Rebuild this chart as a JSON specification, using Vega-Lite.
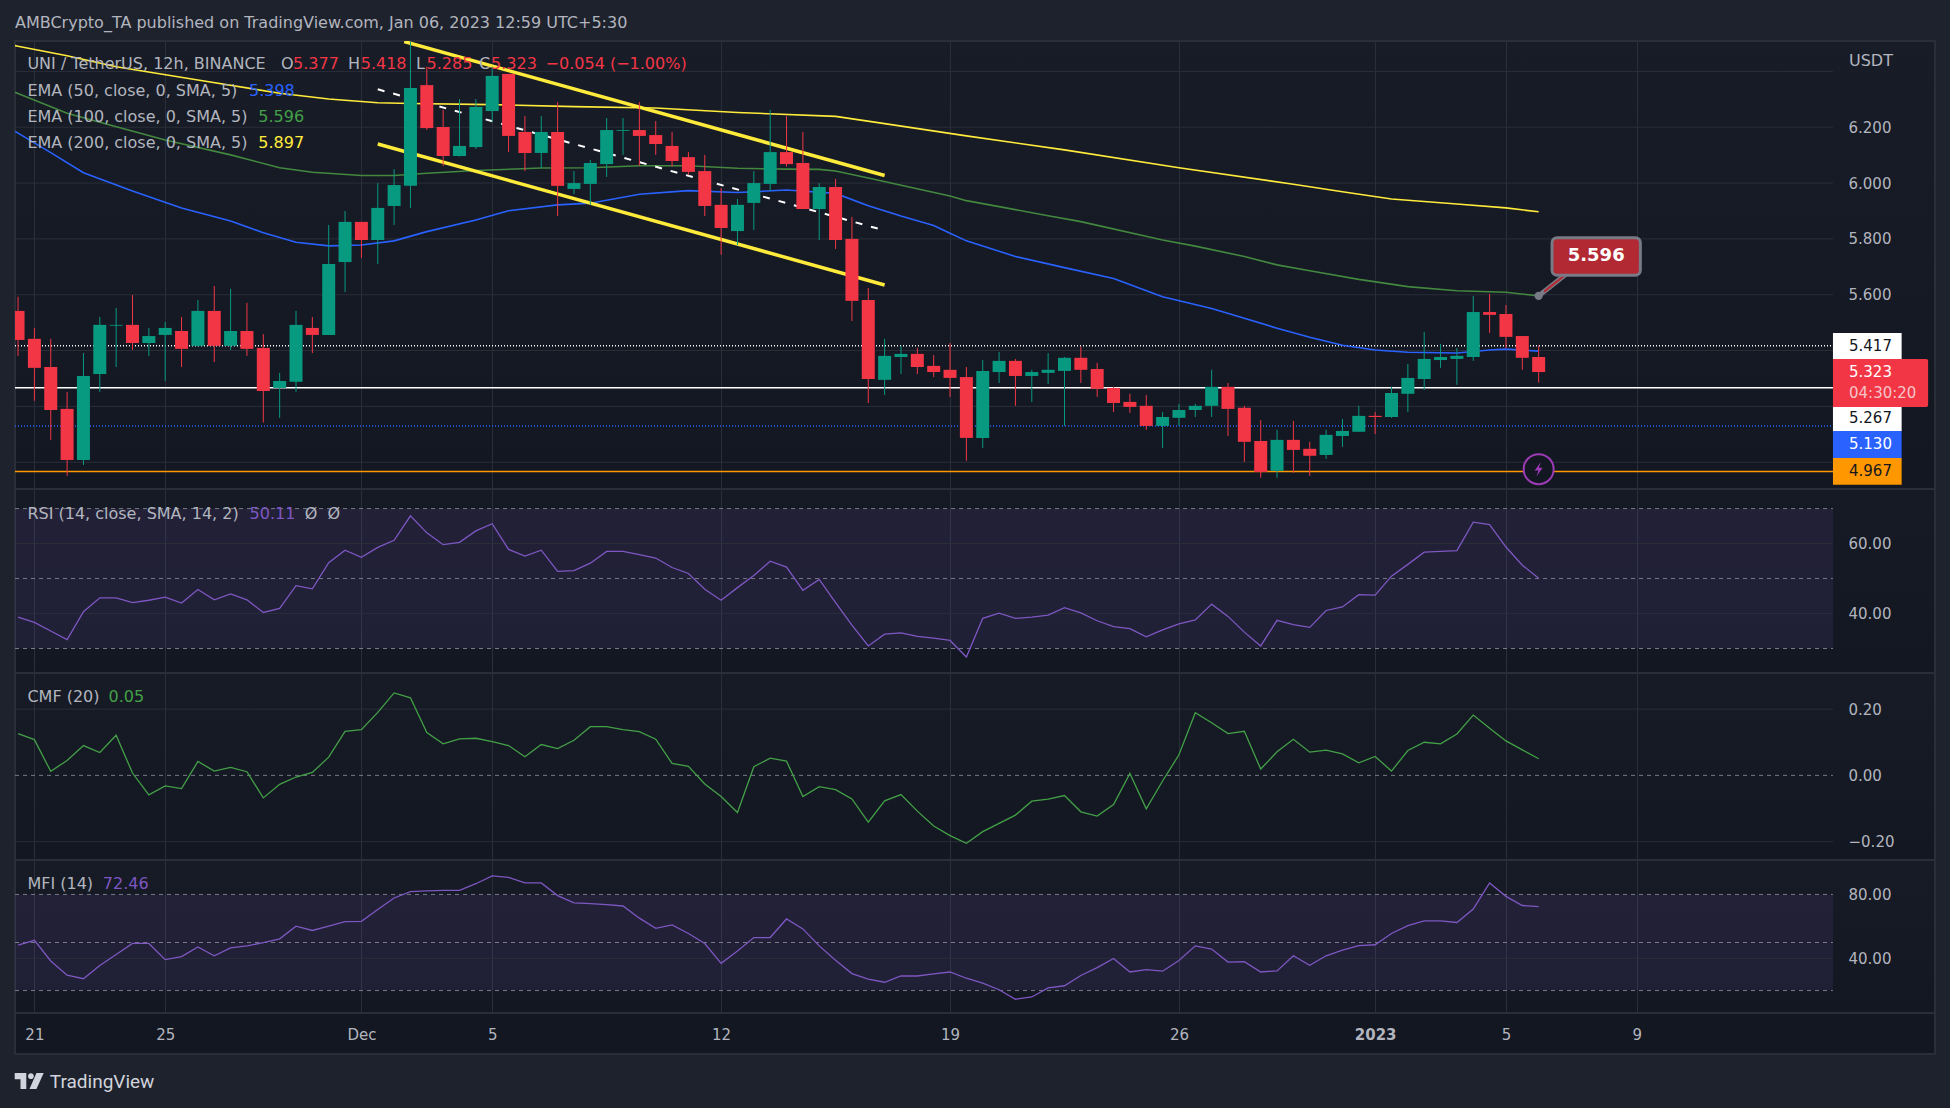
{"$schema":"https://vega.github.io/schema/vega-lite/v6.json","background":"#1e222d","padding":{"left":13,"right":17,"top":0,"bottom":0},"spacing":0,"bounds":"flush",
"config":{"font":"DejaVu Sans","axis":{"title":null,"domain":false,"ticks":false,"tickSize":0,"labelColor":"#b2b5be","labelFont":"DejaVu Sans","labelFontSize":15,"gridColor":"#2a2e39","gridWidth":1},"text":{"font":"DejaVu Sans"}},
"datasets":{
"one":[{"n":1}],
"bars":[
{"t":"2022-11-20T12:00Z","o":5.542,"h":5.593,"l":5.381,"c":5.438,"rsi":38.96,"cmf":0.126,"mfi":48.4},
{"t":"2022-11-21T00:00Z","o":5.442,"h":5.481,"l":5.220,"c":5.338,"rsi":37.49,"cmf":0.108,"mfi":51.4},
{"t":"2022-11-21T12:00Z","o":5.341,"h":5.442,"l":5.080,"c":5.187,"rsi":35.01,"cmf":0.012,"mfi":38.5},
{"t":"2022-11-22T00:00Z","o":5.191,"h":5.252,"l":4.951,"c":5.008,"rsi":32.54,"cmf":0.045,"mfi":29.6},
{"t":"2022-11-22T12:00Z","o":5.008,"h":5.391,"l":4.990,"c":5.309,"rsi":40.54,"cmf":0.090,"mfi":27.4},
{"t":"2022-11-23T00:00Z","o":5.316,"h":5.520,"l":5.252,"c":5.492,"rsi":44.48,"cmf":0.069,"mfi":35.6},
{"t":"2022-11-23T12:00Z","o":5.489,"h":5.553,"l":5.341,"c":5.492,"rsi":44.48,"cmf":0.121,"mfi":42.5},
{"t":"2022-11-24T00:00Z","o":5.492,"h":5.599,"l":5.402,"c":5.427,"rsi":43.13,"cmf":0.007,"mfi":49.4},
{"t":"2022-11-24T12:00Z","o":5.427,"h":5.481,"l":5.381,"c":5.452,"rsi":43.80,"cmf":-0.059,"mfi":49.4},
{"t":"2022-11-25T00:00Z","o":5.456,"h":5.502,"l":5.291,"c":5.481,"rsi":44.70,"cmf":-0.032,"mfi":39.3},
{"t":"2022-11-25T12:00Z","o":5.470,"h":5.520,"l":5.341,"c":5.406,"rsi":43.01,"cmf":-0.040,"mfi":41.2},
{"t":"2022-11-26T00:00Z","o":5.417,"h":5.581,"l":5.414,"c":5.542,"rsi":46.85,"cmf":0.042,"mfi":47.2},
{"t":"2022-11-26T12:00Z","o":5.542,"h":5.631,"l":5.359,"c":5.417,"rsi":43.92,"cmf":0.013,"mfi":41.7},
{"t":"2022-11-27T00:00Z","o":5.417,"h":5.621,"l":5.402,"c":5.470,"rsi":45.61,"cmf":0.024,"mfi":46.7},
{"t":"2022-11-27T12:00Z","o":5.470,"h":5.571,"l":5.381,"c":5.406,"rsi":43.92,"cmf":0.011,"mfi":47.9},
{"t":"2022-11-28T00:00Z","o":5.409,"h":5.459,"l":5.142,"c":5.255,"rsi":40.31,"cmf":-0.068,"mfi":49.9},
{"t":"2022-11-28T12:00Z","o":5.266,"h":5.320,"l":5.159,"c":5.291,"rsi":41.44,"cmf":-0.027,"mfi":52.3},
{"t":"2022-11-29T00:00Z","o":5.288,"h":5.542,"l":5.252,"c":5.492,"rsi":47.97,"cmf":-0.005,"mfi":60.2},
{"t":"2022-11-29T12:00Z","o":5.481,"h":5.520,"l":5.391,"c":5.456,"rsi":47.07,"cmf":0.009,"mfi":57.5},
{"t":"2022-11-30T00:00Z","o":5.456,"h":5.850,"l":5.456,"c":5.710,"rsi":54.51,"cmf":0.055,"mfi":60.2},
{"t":"2022-11-30T12:00Z","o":5.717,"h":5.900,"l":5.610,"c":5.861,"rsi":58.11,"cmf":0.133,"mfi":63.0},
{"t":"2022-12-01T00:00Z","o":5.861,"h":5.861,"l":5.732,"c":5.796,"rsi":56.08,"cmf":0.138,"mfi":63.2},
{"t":"2022-12-01T12:00Z","o":5.796,"h":6.000,"l":5.710,"c":5.911,"rsi":58.90,"cmf":0.190,"mfi":70.6},
{"t":"2022-12-02T00:00Z","o":5.918,"h":6.050,"l":5.850,"c":5.993,"rsi":60.93,"cmf":0.249,"mfi":77.8},
{"t":"2022-12-02T12:00Z","o":5.990,"h":6.507,"l":5.911,"c":6.341,"rsi":67.92,"cmf":0.234,"mfi":81.7},
{"t":"2022-12-03T00:00Z","o":6.351,"h":6.417,"l":6.190,"c":6.197,"rsi":63.07,"cmf":0.129,"mfi":82.2},
{"t":"2022-12-03T12:00Z","o":6.201,"h":6.262,"l":6.061,"c":6.097,"rsi":59.69,"cmf":0.095,"mfi":82.5},
{"t":"2022-12-04T00:00Z","o":6.097,"h":6.301,"l":6.095,"c":6.133,"rsi":60.37,"cmf":0.110,"mfi":82.5},
{"t":"2022-12-04T12:00Z","o":6.129,"h":6.301,"l":6.122,"c":6.273,"rsi":63.63,"cmf":0.112,"mfi":86.7},
{"t":"2022-12-05T00:00Z","o":6.258,"h":6.417,"l":6.219,"c":6.384,"rsi":65.66,"cmf":0.102,"mfi":91.6},
{"t":"2022-12-05T12:00Z","o":6.391,"h":6.391,"l":6.111,"c":6.169,"rsi":58.34,"cmf":0.090,"mfi":90.6},
{"t":"2022-12-06T00:00Z","o":6.183,"h":6.240,"l":6.043,"c":6.108,"rsi":56.42,"cmf":0.056,"mfi":87.2},
{"t":"2022-12-06T12:00Z","o":6.108,"h":6.240,"l":6.054,"c":6.183,"rsi":58.11,"cmf":0.093,"mfi":87.2},
{"t":"2022-12-07T00:00Z","o":6.183,"h":6.290,"l":5.882,"c":5.990,"rsi":52.03,"cmf":0.081,"mfi":79.3},
{"t":"2022-12-07T12:00Z","o":5.979,"h":6.043,"l":5.961,"c":6.000,"rsi":52.25,"cmf":0.106,"mfi":74.8},
{"t":"2022-12-08T00:00Z","o":5.997,"h":6.083,"l":5.922,"c":6.072,"rsi":54.39,"cmf":0.147,"mfi":74.3},
{"t":"2022-12-08T12:00Z","o":6.068,"h":6.233,"l":6.022,"c":6.190,"rsi":57.77,"cmf":0.147,"mfi":73.6},
{"t":"2022-12-09T00:00Z","o":6.187,"h":6.233,"l":6.101,"c":6.190,"rsi":57.77,"cmf":0.138,"mfi":72.8},
{"t":"2022-12-09T12:00Z","o":6.190,"h":6.290,"l":6.062,"c":6.169,"rsi":56.87,"cmf":0.132,"mfi":65.2},
{"t":"2022-12-10T00:00Z","o":6.172,"h":6.222,"l":6.101,"c":6.140,"rsi":55.86,"cmf":0.109,"mfi":58.8},
{"t":"2022-12-10T12:00Z","o":6.133,"h":6.183,"l":6.059,"c":6.079,"rsi":53.15,"cmf":0.036,"mfi":61.0},
{"t":"2022-12-11T00:00Z","o":6.093,"h":6.111,"l":6.029,"c":6.040,"rsi":51.46,"cmf":0.027,"mfi":55.6},
{"t":"2022-12-11T12:00Z","o":6.043,"h":6.101,"l":5.882,"c":5.918,"rsi":46.96,"cmf":-0.026,"mfi":49.4},
{"t":"2022-12-12T00:00Z","o":5.922,"h":5.982,"l":5.743,"c":5.839,"rsi":43.80,"cmf":-0.064,"mfi":37.0},
{"t":"2022-12-12T12:00Z","o":5.828,"h":5.943,"l":5.778,"c":5.922,"rsi":47.41,"cmf":-0.112,"mfi":44.7},
{"t":"2022-12-13T00:00Z","o":5.929,"h":6.043,"l":5.832,"c":6.000,"rsi":50.90,"cmf":0.026,"mfi":53.1},
{"t":"2022-12-13T12:00Z","o":5.997,"h":6.262,"l":5.972,"c":6.111,"rsi":54.96,"cmf":0.052,"mfi":53.1},
{"t":"2022-12-14T00:00Z","o":6.111,"h":6.240,"l":6.059,"c":6.068,"rsi":53.27,"cmf":0.043,"mfi":64.7},
{"t":"2022-12-14T12:00Z","o":6.072,"h":6.183,"l":5.907,"c":5.907,"rsi":46.62,"cmf":-0.064,"mfi":58.5},
{"t":"2022-12-15T00:00Z","o":5.907,"h":6.000,"l":5.796,"c":5.986,"rsi":49.77,"cmf":-0.034,"mfi":47.9},
{"t":"2022-12-15T12:00Z","o":5.986,"h":6.015,"l":5.764,"c":5.796,"rsi":43.13,"cmf":-0.043,"mfi":39.0},
{"t":"2022-12-16T00:00Z","o":5.800,"h":5.879,"l":5.506,"c":5.578,"rsi":36.70,"cmf":-0.071,"mfi":30.6},
{"t":"2022-12-16T12:00Z","o":5.581,"h":5.624,"l":5.212,"c":5.298,"rsi":30.73,"cmf":-0.141,"mfi":27.2},
{"t":"2022-12-17T00:00Z","o":5.295,"h":5.442,"l":5.241,"c":5.381,"rsi":34.11,"cmf":-0.077,"mfi":25.2},
{"t":"2022-12-17T12:00Z","o":5.377,"h":5.417,"l":5.316,"c":5.388,"rsi":34.45,"cmf":-0.058,"mfi":29.1},
{"t":"2022-12-18T00:00Z","o":5.388,"h":5.409,"l":5.316,"c":5.341,"rsi":33.44,"cmf":-0.108,"mfi":29.1},
{"t":"2022-12-18T12:00Z","o":5.345,"h":5.384,"l":5.305,"c":5.323,"rsi":32.99,"cmf":-0.153,"mfi":30.4},
{"t":"2022-12-19T00:00Z","o":5.331,"h":5.427,"l":5.234,"c":5.302,"rsi":32.31,"cmf":-0.182,"mfi":31.6},
{"t":"2022-12-19T12:00Z","o":5.305,"h":5.341,"l":5.005,"c":5.087,"rsi":27.58,"cmf":-0.205,"mfi":27.7},
{"t":"2022-12-20T00:00Z","o":5.087,"h":5.366,"l":5.051,"c":5.327,"rsi":38.62,"cmf":-0.170,"mfi":24.7},
{"t":"2022-12-20T12:00Z","o":5.323,"h":5.395,"l":5.284,"c":5.363,"rsi":40.08,"cmf":-0.145,"mfi":20.5},
{"t":"2022-12-21T00:00Z","o":5.363,"h":5.370,"l":5.202,"c":5.309,"rsi":38.62,"cmf":-0.120,"mfi":14.6},
{"t":"2022-12-21T12:00Z","o":5.309,"h":5.331,"l":5.216,"c":5.323,"rsi":38.96,"cmf":-0.078,"mfi":16.0},
{"t":"2022-12-22T00:00Z","o":5.320,"h":5.391,"l":5.280,"c":5.331,"rsi":39.52,"cmf":-0.072,"mfi":21.7},
{"t":"2022-12-22T12:00Z","o":5.327,"h":5.377,"l":5.130,"c":5.374,"rsi":41.66,"cmf":-0.061,"mfi":23.0},
{"t":"2022-12-23T00:00Z","o":5.374,"h":5.414,"l":5.284,"c":5.331,"rsi":40.20,"cmf":-0.110,"mfi":29.4},
{"t":"2022-12-23T12:00Z","o":5.334,"h":5.356,"l":5.234,"c":5.263,"rsi":37.94,"cmf":-0.123,"mfi":34.3},
{"t":"2022-12-24T00:00Z","o":5.266,"h":5.270,"l":5.180,"c":5.212,"rsi":36.25,"cmf":-0.088,"mfi":40.0},
{"t":"2022-12-24T12:00Z","o":5.216,"h":5.245,"l":5.177,"c":5.198,"rsi":35.69,"cmf":0.006,"mfi":31.6},
{"t":"2022-12-25T00:00Z","o":5.202,"h":5.241,"l":5.116,"c":5.130,"rsi":33.32,"cmf":-0.101,"mfi":33.1},
{"t":"2022-12-25T12:00Z","o":5.130,"h":5.180,"l":5.051,"c":5.162,"rsi":35.35,"cmf":-0.017,"mfi":32.1},
{"t":"2022-12-26T00:00Z","o":5.159,"h":5.209,"l":5.130,"c":5.187,"rsi":37.04,"cmf":0.062,"mfi":38.8},
{"t":"2022-12-26T12:00Z","o":5.187,"h":5.209,"l":5.162,"c":5.202,"rsi":38.17,"cmf":0.189,"mfi":47.9},
{"t":"2022-12-27T00:00Z","o":5.202,"h":5.331,"l":5.162,"c":5.270,"rsi":42.68,"cmf":0.159,"mfi":45.9},
{"t":"2022-12-27T12:00Z","o":5.270,"h":5.284,"l":5.094,"c":5.191,"rsi":39.18,"cmf":0.126,"mfi":37.8},
{"t":"2022-12-28T00:00Z","o":5.195,"h":5.202,"l":5.001,"c":5.073,"rsi":34.68,"cmf":0.133,"mfi":38.0},
{"t":"2022-12-28T12:00Z","o":5.076,"h":5.151,"l":4.944,"c":4.965,"rsi":30.73,"cmf":0.019,"mfi":31.6},
{"t":"2022-12-29T00:00Z","o":4.969,"h":5.116,"l":4.944,"c":5.080,"rsi":38.06,"cmf":0.071,"mfi":32.3},
{"t":"2022-12-29T12:00Z","o":5.080,"h":5.148,"l":4.962,"c":5.044,"rsi":36.82,"cmf":0.109,"mfi":41.7},
{"t":"2022-12-30T00:00Z","o":5.048,"h":5.073,"l":4.951,"c":5.023,"rsi":36.03,"cmf":0.070,"mfi":35.8},
{"t":"2022-12-30T12:00Z","o":5.026,"h":5.116,"l":5.012,"c":5.098,"rsi":40.87,"cmf":0.076,"mfi":41.7},
{"t":"2022-12-31T00:00Z","o":5.094,"h":5.155,"l":5.055,"c":5.112,"rsi":41.89,"cmf":0.065,"mfi":45.2},
{"t":"2022-12-31T12:00Z","o":5.109,"h":5.202,"l":5.109,"c":5.166,"rsi":45.38,"cmf":0.038,"mfi":48.1},
{"t":"2023-01-01T00:00Z","o":5.166,"h":5.180,"l":5.101,"c":5.162,"rsi":45.27,"cmf":0.057,"mfi":48.6},
{"t":"2023-01-01T12:00Z","o":5.162,"h":5.270,"l":5.159,"c":5.248,"rsi":50.68,"cmf":0.013,"mfi":55.6},
{"t":"2023-01-02T00:00Z","o":5.245,"h":5.352,"l":5.180,"c":5.302,"rsi":54.06,"cmf":0.075,"mfi":60.5},
{"t":"2023-01-02T12:00Z","o":5.298,"h":5.467,"l":5.259,"c":5.370,"rsi":57.55,"cmf":0.100,"mfi":63.5},
{"t":"2023-01-03T00:00Z","o":5.366,"h":5.424,"l":5.338,"c":5.377,"rsi":57.77,"cmf":0.095,"mfi":63.5},
{"t":"2023-01-03T12:00Z","o":5.370,"h":5.409,"l":5.277,"c":5.381,"rsi":58.00,"cmf":0.125,"mfi":62.5},
{"t":"2023-01-04T00:00Z","o":5.377,"h":5.596,"l":5.363,"c":5.538,"rsi":66.11,"cmf":0.182,"mfi":70.9},
{"t":"2023-01-04T12:00Z","o":5.538,"h":5.603,"l":5.463,"c":5.528,"rsi":65.44,"cmf":0.142,"mfi":87.2},
{"t":"2023-01-05T00:00Z","o":5.531,"h":5.563,"l":5.409,"c":5.449,"rsi":59.01,"cmf":0.104,"mfi":78.8},
{"t":"2023-01-05T12:00Z","o":5.452,"h":5.452,"l":5.331,"c":5.374,"rsi":53.83,"cmf":0.077,"mfi":73.1},
{"t":"2023-01-06T00:00Z","o":5.377,"h":5.418,"l":5.285,"c":5.323,"rsi":50.11,"cmf":0.050,"mfi":72.46}
],
"ema50":[
{"t":"2022-11-20T00:00Z","v":6.213},{"t":"2022-11-20T12:00Z","v":6.179},{"t":"2022-11-21T12:00Z","v":6.109},{"t":"2022-11-22T12:00Z","v":6.037},{"t":"2022-11-24T00:00Z","v":5.972},{"t":"2022-11-25T12:00Z","v":5.911},{"t":"2022-11-27T00:00Z","v":5.864},{"t":"2022-11-28T00:00Z","v":5.822},{"t":"2022-11-29T00:00Z","v":5.788},{"t":"2022-11-30T00:00Z","v":5.775},{"t":"2022-12-01T00:00Z","v":5.778},{"t":"2022-12-02T00:00Z","v":5.793},{"t":"2022-12-03T00:00Z","v":5.826},{"t":"2022-12-04T12:00Z","v":5.868},{"t":"2022-12-05T12:00Z","v":5.901},{"t":"2022-12-07T00:00Z","v":5.922},{"t":"2022-12-08T00:00Z","v":5.928},{"t":"2022-12-09T12:00Z","v":5.960},{"t":"2022-12-11T00:00Z","v":5.973},{"t":"2022-12-12T12:00Z","v":5.966},{"t":"2022-12-14T00:00Z","v":5.975},{"t":"2022-12-15T12:00Z","v":5.963},{"t":"2022-12-16T12:00Z","v":5.919},{"t":"2022-12-17T12:00Z","v":5.882},{"t":"2022-12-18T12:00Z","v":5.848},{"t":"2022-12-19T00:00Z","v":5.820},{"t":"2022-12-19T12:00Z","v":5.793},{"t":"2022-12-21T00:00Z","v":5.737},{"t":"2022-12-22T12:00Z","v":5.697},{"t":"2022-12-24T00:00Z","v":5.658},{"t":"2022-12-25T12:00Z","v":5.593},{"t":"2022-12-27T00:00Z","v":5.551},{"t":"2022-12-28T00:00Z","v":5.516},{"t":"2022-12-29T00:00Z","v":5.480},{"t":"2022-12-30T00:00Z","v":5.448},{"t":"2022-12-31T00:00Z","v":5.419},{"t":"2023-01-01T00:00Z","v":5.402},{"t":"2023-01-02T00:00Z","v":5.394},{"t":"2023-01-03T12:00Z","v":5.391},{"t":"2023-01-04T12:00Z","v":5.402},{"t":"2023-01-05T00:00Z","v":5.405},{"t":"2023-01-06T00:00Z","v":5.398}],
"ema100":[
{"t":"2022-11-20T00:00Z","v":6.344},{"t":"2022-11-20T12:00Z","v":6.321},{"t":"2022-11-22T00:00Z","v":6.250},{"t":"2022-11-23T00:00Z","v":6.218},{"t":"2022-11-25T00:00Z","v":6.154},{"t":"2022-11-27T00:00Z","v":6.101},{"t":"2022-11-28T12:00Z","v":6.055},{"t":"2022-11-29T12:00Z","v":6.039},{"t":"2022-12-01T00:00Z","v":6.027},{"t":"2022-12-02T00:00Z","v":6.027},{"t":"2022-12-03T00:00Z","v":6.035},{"t":"2022-12-04T12:00Z","v":6.045},{"t":"2022-12-06T12:00Z","v":6.054},{"t":"2022-12-08T00:00Z","v":6.055},{"t":"2022-12-09T12:00Z","v":6.062},{"t":"2022-12-11T00:00Z","v":6.062},{"t":"2022-12-12T12:00Z","v":6.053},{"t":"2022-12-14T00:00Z","v":6.050},{"t":"2022-12-15T00:00Z","v":6.049},{"t":"2022-12-15T12:00Z","v":6.043},{"t":"2022-12-16T12:00Z","v":6.018},{"t":"2022-12-19T00:00Z","v":5.954},{"t":"2022-12-19T12:00Z","v":5.937},{"t":"2022-12-22T00:00Z","v":5.883},{"t":"2022-12-23T00:00Z","v":5.862},{"t":"2022-12-25T12:00Z","v":5.796},{"t":"2022-12-26T12:00Z","v":5.774},{"t":"2022-12-28T00:00Z","v":5.737},{"t":"2022-12-29T00:00Z","v":5.707},{"t":"2022-12-30T00:00Z","v":5.686},{"t":"2022-12-31T12:00Z","v":5.655},{"t":"2023-01-02T00:00Z","v":5.629},{"t":"2023-01-03T12:00Z","v":5.614},{"t":"2023-01-05T00:00Z","v":5.609},{"t":"2023-01-06T00:00Z","v":5.596}],
"ema200":[
{"t":"2022-11-20T00:00Z","v":6.503},{"t":"2022-11-20T12:00Z","v":6.490},{"t":"2022-11-22T00:00Z","v":6.456},{"t":"2022-11-23T12:00Z","v":6.417},{"t":"2022-11-26T00:00Z","v":6.369},{"t":"2022-11-28T12:00Z","v":6.322},{"t":"2022-11-30T00:00Z","v":6.301},{"t":"2022-12-01T12:00Z","v":6.288},{"t":"2022-12-02T12:00Z","v":6.285},{"t":"2022-12-05T00:00Z","v":6.281},{"t":"2022-12-07T12:00Z","v":6.274},{"t":"2022-12-10T00:00Z","v":6.269},{"t":"2022-12-12T12:00Z","v":6.253},{"t":"2022-12-15T12:00Z","v":6.239},{"t":"2022-12-17T00:00Z","v":6.213},{"t":"2022-12-19T12:00Z","v":6.169},{"t":"2022-12-22T12:00Z","v":6.119},{"t":"2022-12-26T00:00Z","v":6.055},{"t":"2022-12-29T12:00Z","v":5.996},{"t":"2022-12-31T00:00Z","v":5.969},{"t":"2023-01-01T12:00Z","v":5.943},{"t":"2023-01-03T12:00Z","v":5.925},{"t":"2023-01-05T00:00Z","v":5.911},{"t":"2023-01-06T00:00Z","v":5.897}],
"channels":[
{"id":"upper","t":"2022-12-02T07:26Z","p":6.507},{"id":"upper","t":"2022-12-17T00:00Z","p":6.027},
{"id":"lower","t":"2022-12-01T12:00Z","p":6.140},{"id":"lower","t":"2022-12-17T00:00Z","p":5.635}],
"mid":[{"t":"2022-12-01T12:00Z","p":6.336},{"t":"2022-12-16T19:00Z","p":5.837}],
"pricegrid":[{"p":6.4},{"p":6.2},{"p":6.0},{"p":5.8},{"p":5.6},{"p":5.4},{"p":5.2},{"p":5.0}],
"mainText":[
{"t":"2022-11-20T18:52Z","p":6.425,"s":"UNI / TetherUS, 12h, BINANCE","k":"label"},
{"t":"2022-11-28T12:59Z","p":6.425,"s":"O","k":"label"},{"t":"2022-11-28T21:48Z","p":6.425,"s":"5.377","k":"down"},
{"t":"2022-11-30T14:10Z","p":6.425,"s":"H","k":"label"},{"t":"2022-11-30T23:29Z","p":6.425,"s":"5.418","k":"down"},
{"t":"2022-12-02T16:05Z","p":6.425,"s":"L","k":"label"},{"t":"2022-12-02T23:51Z","p":6.425,"s":"5.285","k":"down"},
{"t":"2022-12-04T14:18Z","p":6.425,"s":"C","k":"label"},{"t":"2022-12-04T23:07Z","p":6.425,"s":"5.323","k":"down"},
{"t":"2022-12-06T15:11Z","p":6.425,"s":"−0.054 (−1.00%)","k":"down"},
{"t":"2022-11-20T18:52Z","p":6.329,"s":"EMA (50, close, 0, SMA, 5)","k":"label"},{"t":"2022-11-27T13:30Z","p":6.329,"s":"5.398","k":"e50"},
{"t":"2022-11-20T18:52Z","p":6.236,"s":"EMA (100, close, 0, SMA, 5)","k":"label"},{"t":"2022-11-27T20:20Z","p":6.236,"s":"5.596","k":"e100"},
{"t":"2022-11-20T18:52Z","p":6.143,"s":"EMA (200, close, 0, SMA, 5)","k":"label"},{"t":"2022-11-27T20:20Z","p":6.143,"s":"5.897","k":"e200"},
{"t":"2023-01-15T11:46Z","p":6.438,"s":"USDT","k":"label"}],
"boxes":[
{"top":5.463,"bot":5.370,"k":"white"},{"top":5.198,"bot":5.112,"k":"white"},{"top":5.112,"bot":5.015,"k":"blue"},{"top":5.015,"bot":4.919,"k":"orange"}],
"boxText":[
{"s":"5.417","p":5.417,"k":"dark"},{"s":"5.323","p":5.323,"k":"light"},{"s":"04:30:20","p":5.248,"k":"faint"},{"s":"5.267","p":5.159,"k":"dark"},{"s":"5.130","p":5.066,"k":"light"},{"s":"4.967","p":4.967,"k":"dark"}]
},
"vconcat":[
{"width":1920,"height":41,"view":{"stroke":null},"data":{"name":"one"},"layer":[
{"mark":{"type":"text","align":"left","baseline":"middle","fontSize":16,"color":"#b2b5be","text":"AMBCrypto_TA published on TradingView.com, Jan 06, 2023 12:59 UTC+5:30"},"encoding":{"x":{"datum":{"year":2022,"month":11,"date":20,"hours":9,"minutes":46,"utc":true},"type":"temporal","scale":{"type":"utc","nice":false,"padding":0,"domain":["2022-11-20T09:46Z","2023-01-18T02:53Z"]},"axis":null},"y":{"datum":0.44,"type":"quantitative","scale":{"domain":[0,1]},"axis":null}}}
]},
{"width":1920,"height":448,"view":{"stroke":"#2a2e39","strokeWidth":2,"fill":{"gradient":"linear","x1":0,"y1":0,"x2":0,"y2":1,"stops":[{"offset":0,"color":"#181c27"},{"offset":1,"color":"#131722"}]}},"data":{"name":"one"},"layer":[
{"data":{"name":"pricegrid"},"mark":{"type":"rule","color":"#2a2e39","strokeWidth":1},"encoding":{"x":{"datum":{"year":2022,"month":11,"date":20,"hours":9,"minutes":46,"utc":true},"type":"temporal","scale":{"type":"utc","nice":false,"padding":0,"domain":["2022-11-20T09:46Z","2023-01-18T02:53Z"]},"axis":{"grid":true,"labels":false,"values":["2022-11-21T00:00Z","2022-11-25T00:00Z","2022-12-01T00:00Z","2022-12-05T00:00Z","2022-12-12T00:00Z","2022-12-19T00:00Z","2022-12-26T00:00Z","2023-01-01T00:00Z","2023-01-05T00:00Z","2023-01-09T00:00Z"]}},"x2":{"datum":{"year":2023,"month":1,"date":15,"utc":true}},"y":{"field":"p","type":"quantitative","scale":{"nice":false,"zero":false,"domain":[4.904,6.509]},"axis":{"orient":"right","offset":-102,"labelPadding":15,"grid":false,"values":[6.2,6.0,5.8,5.6],"format":".3f"}}}},
{"mark":{"type":"rule","color":"#ffffff","strokeWidth":1.5,"strokeDash":[1,2]},"encoding":{"x":{"datum":{"year":2022,"month":11,"date":20,"hours":9,"minutes":46,"utc":true},"type":"temporal"},"x2":{"datum":{"year":2023,"month":1,"date":15,"utc":true}},"y":{"datum":5.417,"type":"quantitative"}}},
{"mark":{"type":"rule","color":"#ffffff","strokeWidth":1.5},"encoding":{"x":{"datum":{"year":2022,"month":11,"date":20,"hours":9,"minutes":46,"utc":true},"type":"temporal"},"x2":{"datum":{"year":2023,"month":1,"date":15,"utc":true}},"y":{"datum":5.267,"type":"quantitative"}}},
{"mark":{"type":"rule","color":"#2962ff","strokeWidth":1.5,"strokeDash":[1,2]},"encoding":{"x":{"datum":{"year":2022,"month":11,"date":20,"hours":9,"minutes":46,"utc":true},"type":"temporal"},"x2":{"datum":{"year":2023,"month":1,"date":15,"utc":true}},"y":{"datum":5.130,"type":"quantitative"}}},
{"mark":{"type":"rule","color":"#ff9800","strokeWidth":1.5},"encoding":{"x":{"datum":{"year":2022,"month":11,"date":20,"hours":9,"minutes":46,"utc":true},"type":"temporal"},"x2":{"datum":{"year":2023,"month":1,"date":15,"utc":true}},"y":{"datum":4.967,"type":"quantitative"}}},
{"data":{"name":"ema200"},"mark":{"type":"line","color":"#ffeb3b","strokeWidth":1.6,"clip":true},"encoding":{"x":{"field":"t","type":"temporal"},"y":{"field":"v","type":"quantitative"}}},
{"data":{"name":"ema100"},"mark":{"type":"line","color":"#43883f","strokeWidth":1.6,"clip":true},"encoding":{"x":{"field":"t","type":"temporal"},"y":{"field":"v","type":"quantitative"}}},
{"data":{"name":"ema50"},"mark":{"type":"line","color":"#2962ff","strokeWidth":1.6,"clip":true},"encoding":{"x":{"field":"t","type":"temporal"},"y":{"field":"v","type":"quantitative"}}},
{"data":{"name":"channels"},"mark":{"type":"line","color":"#ffeb3b","strokeWidth":3.5,"clip":true},"encoding":{"x":{"field":"t","type":"temporal"},"y":{"field":"p","type":"quantitative"},"detail":{"field":"id"}}},
{"data":{"name":"mid"},"mark":{"type":"line","color":"#ffffff","strokeWidth":2,"strokeDash":[7,9]},"encoding":{"x":{"field":"t","type":"temporal"},"y":{"field":"p","type":"quantitative"}}},
{"data":{"name":"bars"},"mark":{"type":"rule","strokeWidth":1,"clip":true},"encoding":{"x":{"field":"t","type":"temporal"},"y":{"field":"h","type":"quantitative"},"y2":{"field":"l"},"color":{"condition":{"test":"datum.c>=datum.o","value":"#089981"},"value":"#f23645"}}},
{"data":{"name":"bars"},"mark":{"type":"bar","width":13,"orient":"vertical","clip":true},"encoding":{"x":{"field":"t","type":"temporal"},"y":{"field":"o","type":"quantitative"},"y2":{"field":"c"},"color":{"condition":{"test":"datum.c>=datum.o","value":"#089981"},"value":"#f23645"}}},
{"data":{"name":"boxes"},"mark":{"type":"rect"},"encoding":{"x":{"datum":{"year":2023,"month":1,"date":15,"utc":true},"type":"temporal"},"x2":{"datum":{"year":2023,"month":1,"date":17,"hours":2,"minutes":24,"utc":true}},"y":{"field":"top","type":"quantitative"},"y2":{"field":"bot"},"color":{"field":"k","type":"nominal","legend":null,"scale":{"domain":["label","down","e50","e100","e200","rsi","cmf","white","blue","orange","red","dark","light","faint"],"range":["#b2b5be","#f23645","#2962ff","#43a047","#ffeb3b","#7e57c2","#43a047","#ffffff","#2962ff","#ff9800","#f23645","#131722","#ffffff","#f5c4c9"]}}}},
{"mark":{"type":"rect","color":"#f23645","cornerRadiusTopRight":2,"cornerRadiusBottomRight":2},"encoding":{"x":{"datum":{"year":2023,"month":1,"date":15,"utc":true},"type":"temporal"},"x2":{"datum":{"year":2023,"month":1,"date":17,"hours":21,"minutes":50,"utc":true}},"y":{"datum":5.370,"type":"quantitative"},"y2":{"datum":5.198}}},
{"data":{"name":"boxText"},"mark":{"type":"text","align":"left","baseline":"middle","fontSize":15},"encoding":{"x":{"datum":{"year":2023,"month":1,"date":15,"hours":11,"minutes":46,"utc":true},"type":"temporal"},"y":{"field":"p","type":"quantitative"},"text":{"field":"s"},"color":{"field":"k","type":"nominal","legend":null}}},
{"data":{"name":"mainText"},"mark":{"type":"text","align":"left","baseline":"middle","fontSize":16},"encoding":{"x":{"field":"t","type":"temporal"},"y":{"field":"p","type":"quantitative"},"text":{"field":"s"},"color":{"field":"k","type":"nominal","legend":null}}},
{"mark":{"type":"rule","color":"#787b86","strokeWidth":5},"encoding":{"x":{"datum":{"year":2023,"month":1,"date":6,"utc":true},"type":"temporal"},"x2":{"datum":{"year":2023,"month":1,"date":6,"hours":19,"minutes":26,"utc":true}},"y":{"datum":5.596,"type":"quantitative"},"y2":{"datum":5.671}}},
{"mark":{"type":"rule","color":"#b22833","strokeWidth":2},"encoding":{"x":{"datum":{"year":2023,"month":1,"date":6,"hours":4,"utc":true},"type":"temporal"},"x2":{"datum":{"year":2023,"month":1,"date":6,"hours":19,"minutes":26,"utc":true}},"y":{"datum":5.611,"type":"quantitative"},"y2":{"datum":5.671}}},
{"mark":{"type":"point","filled":true,"color":"#787b86","size":70,"opacity":1},"encoding":{"x":{"datum":{"year":2023,"month":1,"date":6,"utc":true},"type":"temporal"},"y":{"datum":5.596,"type":"quantitative"}}},
{"mark":{"type":"rect","fill":"#b22833","stroke":"#787b86","strokeWidth":3,"cornerRadius":5},"encoding":{"x":{"datum":{"year":2023,"month":1,"date":6,"hours":9,"minutes":50,"utc":true},"type":"temporal"},"x2":{"datum":{"year":2023,"month":1,"date":9,"hours":2,"minutes":38,"utc":true}},"y":{"datum":5.8045,"type":"quantitative"},"y2":{"datum":5.670}}},
{"mark":{"type":"text","align":"center","baseline":"middle","fontSize":18,"fontWeight":"bold","color":"#ffffff","text":"5.596"},"encoding":{"x":{"datum":{"year":2023,"month":1,"date":7,"hours":18,"minutes":14,"utc":true},"type":"temporal"},"y":{"datum":5.739,"type":"quantitative"}}},
{"mark":{"type":"point","shape":"circle","filled":true,"fill":"#131722","stroke":"#9c3bb5","strokeWidth":2,"size":900,"opacity":1},"encoding":{"x":{"datum":{"year":2023,"month":1,"date":6,"utc":true},"type":"temporal"},"y":{"datum":4.975,"type":"quantitative"}}},
{"mark":{"type":"point","shape":"M0.25 -0.8L-0.45 0.15L-0.02 0.15L-0.25 0.8L0.45 -0.15L0.02 -0.15Z","filled":true,"color":"#9c3bb5","size":324,"opacity":1},"encoding":{"x":{"datum":{"year":2023,"month":1,"date":6,"utc":true},"type":"temporal"},"y":{"datum":4.975,"type":"quantitative"}}}
]},
{"width":1920,"height":184,"view":{"stroke":"#2a2e39","strokeWidth":2,"fill":{"gradient":"linear","x1":0,"y1":0,"x2":0,"y2":1,"stops":[{"offset":0,"color":"#161a25"},{"offset":1,"color":"#131722"}]}},"data":{"name":"one"},"layer":[
{"mark":{"type":"rect","color":"#7e57c2","opacity":0.12},"encoding":{"x":{"datum":{"year":2022,"month":11,"date":20,"hours":9,"minutes":46,"utc":true},"type":"temporal","scale":{"type":"utc","nice":false,"padding":0,"domain":["2022-11-20T09:46Z","2023-01-18T02:53Z"]},"axis":{"grid":true,"labels":false,"values":["2022-11-21T00:00Z","2022-11-25T00:00Z","2022-12-01T00:00Z","2022-12-05T00:00Z","2022-12-12T00:00Z","2022-12-19T00:00Z","2022-12-26T00:00Z","2023-01-01T00:00Z","2023-01-05T00:00Z","2023-01-09T00:00Z"]}},"x2":{"datum":{"year":2023,"month":1,"date":15,"utc":true}},"y":{"datum":70,"type":"quantitative","scale":{"nice":false,"zero":false,"domain":[23,75.6]},"axis":{"orient":"right","offset":-102,"labelPadding":15,"grid":false,"values":[40,60],"format":".2f"}},"y2":{"datum":30}}},
{"data":{"values":[{"v":60},{"v":40}]},"mark":{"type":"rule","color":"#2a2e39","strokeWidth":1},"encoding":{"x":{"datum":{"year":2022,"month":11,"date":20,"hours":9,"minutes":46,"utc":true},"type":"temporal"},"x2":{"datum":{"year":2023,"month":1,"date":15,"utc":true}},"y":{"field":"v","type":"quantitative"}}},
{"data":{"values":[{"v":70},{"v":50},{"v":30}]},"mark":{"type":"rule","color":"#787b86","strokeWidth":1,"strokeDash":[4,4]},"encoding":{"x":{"datum":{"year":2022,"month":11,"date":20,"hours":9,"minutes":46,"utc":true},"type":"temporal"},"x2":{"datum":{"year":2023,"month":1,"date":15,"utc":true}},"y":{"field":"v","type":"quantitative"}}},
{"data":{"name":"bars"},"mark":{"type":"line","color":"#7e57c2","strokeWidth":1.3,"clip":true},"encoding":{"x":{"field":"t","type":"temporal"},"y":{"field":"rsi","type":"quantitative"}}},
{"data":{"values":[{"t":"2022-11-20T18:52Z","s":"RSI (14, close, SMA, 14, 2)","k":"label"},{"t":"2022-11-27T13:57Z","s":"50.11","k":"rsi"},{"t":"2022-11-29T06:23Z","s":"Ø","k":"label"},{"t":"2022-11-29T23:07Z","s":"Ø","k":"label"}]},"mark":{"type":"text","align":"left","baseline":"middle","fontSize":16},"encoding":{"x":{"field":"t","type":"temporal"},"y":{"datum":68.5,"type":"quantitative"},"text":{"field":"s"},"color":{"field":"k","type":"nominal","legend":null}}}
]},
{"width":1920,"height":187,"view":{"stroke":"#2a2e39","strokeWidth":2,"fill":{"gradient":"linear","x1":0,"y1":0,"x2":0,"y2":1,"stops":[{"offset":0,"color":"#171b26"},{"offset":1,"color":"#131722"}]}},"data":{"name":"one"},"layer":[
{"data":{"values":[{"v":0.2},{"v":-0.2}]},"mark":{"type":"rule","color":"#2a2e39","strokeWidth":1},"encoding":{"x":{"datum":{"year":2022,"month":11,"date":20,"hours":9,"minutes":46,"utc":true},"type":"temporal","scale":{"type":"utc","nice":false,"padding":0,"domain":["2022-11-20T09:46Z","2023-01-18T02:53Z"]},"axis":{"grid":true,"labels":false,"values":["2022-11-21T00:00Z","2022-11-25T00:00Z","2022-12-01T00:00Z","2022-12-05T00:00Z","2022-12-12T00:00Z","2022-12-19T00:00Z","2022-12-26T00:00Z","2023-01-01T00:00Z","2023-01-05T00:00Z","2023-01-09T00:00Z"]}},"x2":{"datum":{"year":2023,"month":1,"date":15,"utc":true}},"y":{"field":"v","type":"quantitative","scale":{"nice":false,"zero":false,"domain":[-0.2555,0.309]},"axis":{"orient":"right","offset":-102,"labelPadding":15,"grid":false,"values":[0.2,0,-0.2],"format":".2f"}}}},
{"mark":{"type":"rule","color":"#787b86","strokeWidth":1,"strokeDash":[4,4]},"encoding":{"x":{"datum":{"year":2022,"month":11,"date":20,"hours":9,"minutes":46,"utc":true},"type":"temporal"},"x2":{"datum":{"year":2023,"month":1,"date":15,"utc":true}},"y":{"datum":0,"type":"quantitative"}}},
{"data":{"name":"bars"},"mark":{"type":"line","color":"#43a047","strokeWidth":1.3,"clip":true},"encoding":{"x":{"field":"t","type":"temporal"},"y":{"field":"cmf","type":"quantitative"}}},
{"data":{"values":[{"t":"2022-11-20T18:52Z","s":"CMF (20)","k":"label"},{"t":"2022-11-23T06:27Z","s":"0.05","k":"cmf"}]},"mark":{"type":"text","align":"left","baseline":"middle","fontSize":16},"encoding":{"x":{"field":"t","type":"temporal"},"y":{"datum":0.2366,"type":"quantitative"},"text":{"field":"s"},"color":{"field":"k","type":"nominal","legend":null}}}
]},
{"width":1920,"height":153,"view":{"stroke":"#2a2e39","strokeWidth":2,"fill":{"gradient":"linear","x1":0,"y1":0,"x2":0,"y2":1,"stops":[{"offset":0,"color":"#171b26"},{"offset":1,"color":"#131722"}]}},"data":{"name":"one"},"layer":[
{"mark":{"type":"rect","color":"#7e57c2","opacity":0.12},"encoding":{"x":{"datum":{"year":2022,"month":11,"date":20,"hours":9,"minutes":46,"utc":true},"type":"temporal","scale":{"type":"utc","nice":false,"padding":0,"domain":["2022-11-20T09:46Z","2023-01-18T02:53Z"]},"axis":{"grid":true,"labels":false,"values":["2022-11-21T00:00Z","2022-11-25T00:00Z","2022-12-01T00:00Z","2022-12-05T00:00Z","2022-12-12T00:00Z","2022-12-19T00:00Z","2022-12-26T00:00Z","2023-01-01T00:00Z","2023-01-05T00:00Z","2023-01-09T00:00Z"]}},"x2":{"datum":{"year":2023,"month":1,"date":15,"utc":true}},"y":{"datum":80,"type":"quantitative","scale":{"nice":false,"zero":false,"domain":[6,101.5]},"axis":{"orient":"right","offset":-102,"labelPadding":15,"grid":false,"values":[80,40],"format":".2f"}},"y2":{"datum":20}}},
{"mark":{"type":"rule","color":"#2a2e39","strokeWidth":1},"encoding":{"x":{"datum":{"year":2022,"month":11,"date":20,"hours":9,"minutes":46,"utc":true},"type":"temporal"},"x2":{"datum":{"year":2023,"month":1,"date":15,"utc":true}},"y":{"datum":40,"type":"quantitative"}}},
{"data":{"values":[{"v":80},{"v":50},{"v":20}]},"mark":{"type":"rule","color":"#787b86","strokeWidth":1,"strokeDash":[4,4]},"encoding":{"x":{"datum":{"year":2022,"month":11,"date":20,"hours":9,"minutes":46,"utc":true},"type":"temporal"},"x2":{"datum":{"year":2023,"month":1,"date":15,"utc":true}},"y":{"field":"v","type":"quantitative"}}},
{"data":{"name":"bars"},"mark":{"type":"line","color":"#7e57c2","strokeWidth":1.3,"clip":true},"encoding":{"x":{"field":"t","type":"temporal"},"y":{"field":"mfi","type":"quantitative"}}},
{"data":{"values":[{"t":"2022-11-20T18:52Z","s":"MFI (14)","k":"label"},{"t":"2022-11-23T02:12Z","s":"72.46","k":"rsi"}]},"mark":{"type":"text","align":"left","baseline":"middle","fontSize":16},"encoding":{"x":{"field":"t","type":"temporal"},"y":{"datum":86.8,"type":"quantitative"},"text":{"field":"s"},"color":{"field":"k","type":"nominal","legend":null}}}
]},
{"width":1920,"height":41,"view":{"stroke":"#2a2e39","strokeWidth":2,"fill":"#131722"},"data":{"name":"one"},"layer":[
{"mark":{"type":"rect","opacity":0},"encoding":{"x":{"datum":{"year":2022,"month":11,"date":20,"hours":9,"minutes":46,"utc":true},"type":"temporal","scale":{"type":"utc","nice":false,"padding":0,"domain":["2022-11-20T09:46Z","2023-01-18T02:53Z"]},"axis":{"grid":false,"offset":-20,"labelPadding":0,"labelBaseline":"middle","values":["2022-11-21T00:00Z","2022-11-25T00:00Z","2022-12-01T00:00Z","2022-12-05T00:00Z","2022-12-12T00:00Z","2022-12-19T00:00Z","2022-12-26T00:00Z","2023-01-01T00:00Z","2023-01-05T00:00Z","2023-01-09T00:00Z"],"labelExpr":"utcdate(datum.value)==1 ? (utcmonth(datum.value)==0 ? utcFormat(datum.value,'%Y') : utcFormat(datum.value,'%b')) : utcFormat(datum.value,'%-d')","labelFontWeight":{"condition":{"test":"utcdate(datum.value)==1 && utcmonth(datum.value)==0","value":600},"value":400}}},"x2":{"datum":{"year":2023,"month":1,"date":15,"utc":true}}}}
]},
{"width":1920,"height":54,"view":{"stroke":null},"data":{"name":"one"},"layer":[
{"mark":{"type":"point","shape":"M-1 -0.55H-0.2V0.55H-0.6V-0.12H-1ZM-0.08 -0.33A0.2 0.2 0 1 0 0.32 -0.33A0.2 0.2 0 1 0 -0.08 -0.33ZM0.5 -0.55H1L0.5 0.55H0.02Z","filled":true,"color":"#d1d4dc","size":841,"opacity":1},"encoding":{"x":{"datum":{"year":2022,"month":11,"date":20,"hours":20,"minutes":11,"utc":true},"type":"temporal","scale":{"type":"utc","nice":false,"padding":0,"domain":["2022-11-20T09:46Z","2023-01-18T02:53Z"]},"axis":null},"y":{"datum":0.5,"type":"quantitative","scale":{"domain":[0,1]},"axis":null}}},
{"mark":{"type":"text","align":"left","baseline":"middle","fontSize":19,"font":"Roboto","color":"#d1d4dc","text":"TradingView"},"encoding":{"x":{"datum":{"year":2022,"month":11,"date":21,"hours":11,"minutes":18,"utc":true},"type":"temporal"},"y":{"datum":0.474,"type":"quantitative"}}}
]}
]}
